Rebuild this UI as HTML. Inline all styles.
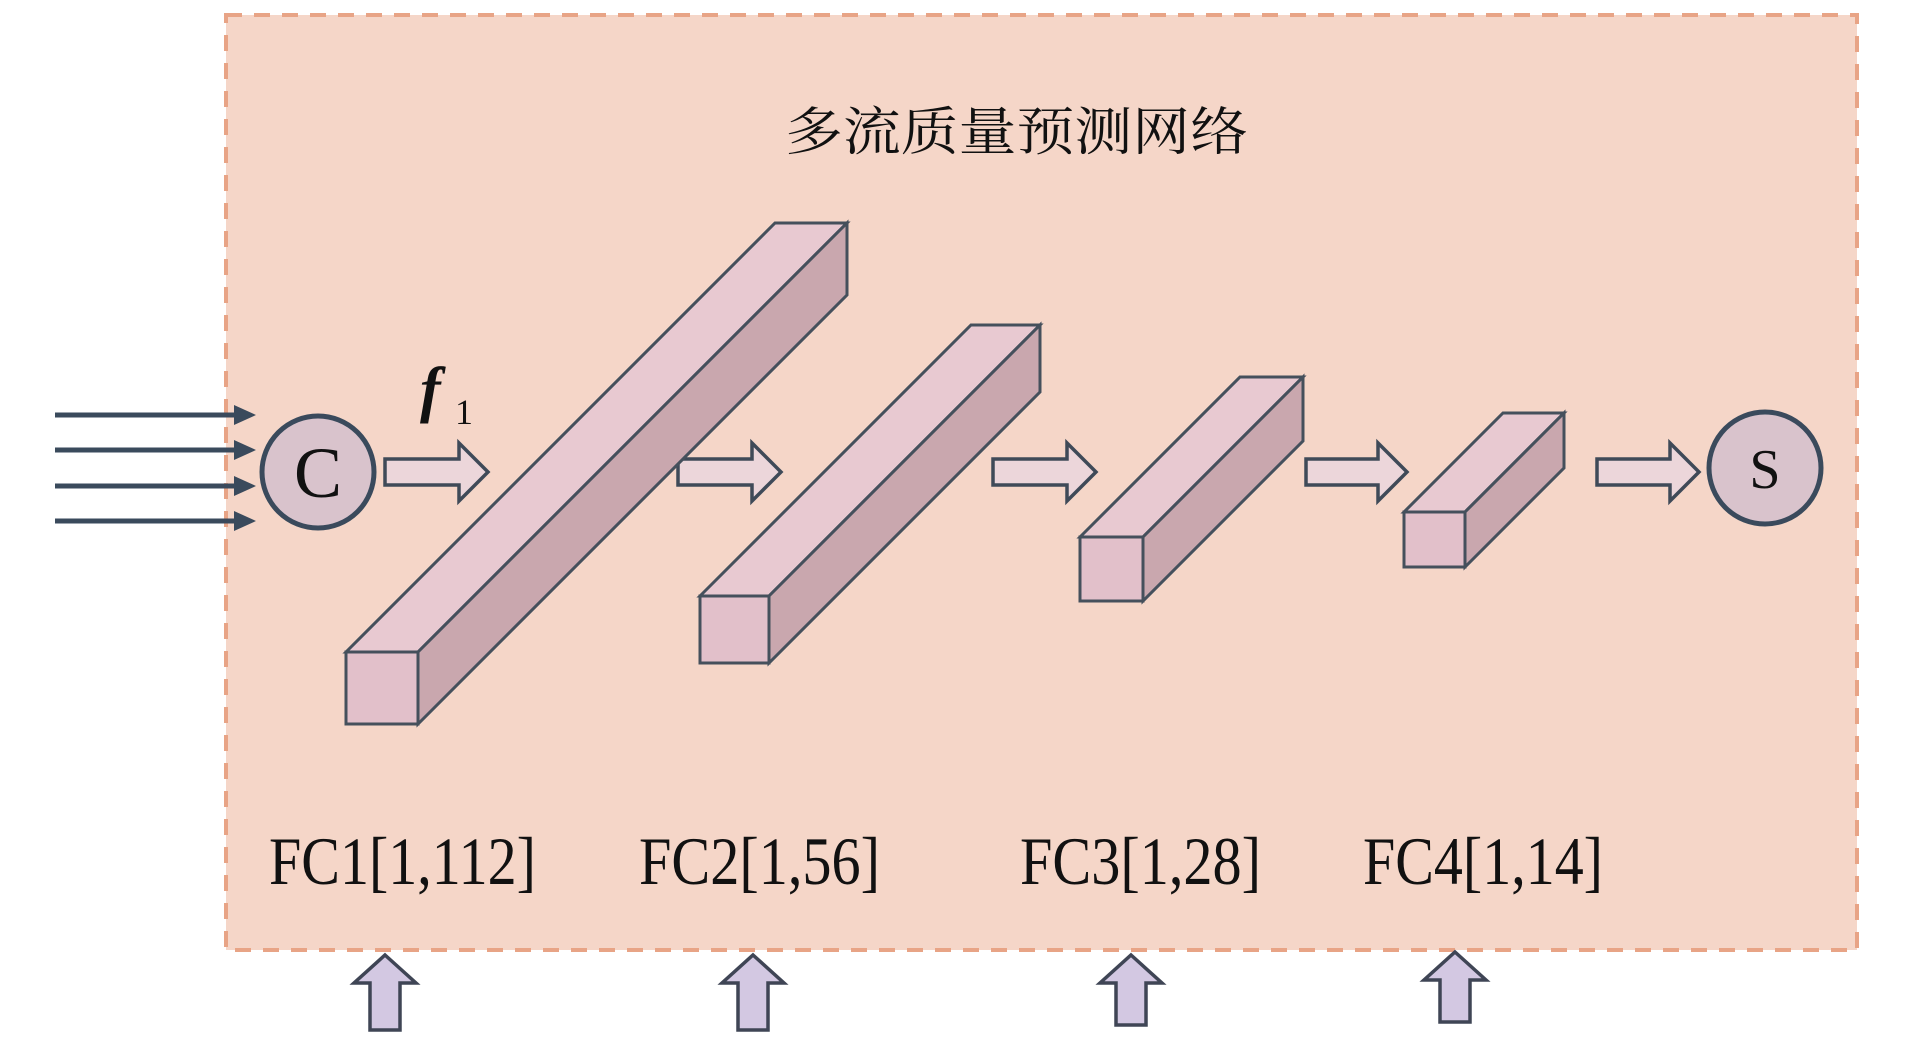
<!DOCTYPE html>
<html><head><meta charset="utf-8"><style>html,body{margin:0;padding:0;background:#fff;}svg{display:block;}</style></head>
<body>
<svg width="1913" height="1039" viewBox="0 0 1913 1039" xmlns="http://www.w3.org/2000/svg">
<rect x="226" y="15" width="1631" height="935" fill="#f5d6c8" stroke="#e8a486" stroke-width="4" stroke-dasharray="16 12"/>
<text x="785" y="150" font-family="'Noto Serif CJK SC','Noto Sans CJK SC',serif" font-size="52" fill="#111" textLength="463" lengthAdjust="spacingAndGlyphs">多流质量预测网络</text>

<g stroke="#3a4a5c" stroke-width="5" fill="#3a4a5c">
<line x1="55" y1="415" x2="238" y2="415"/><polygon points="234,405 256,415 234,425" stroke="none"/>
<line x1="55" y1="450" x2="238" y2="450"/><polygon points="234,440 256,450 234,460" stroke="none"/>
<line x1="55" y1="486" x2="238" y2="486"/><polygon points="234,476 256,486 234,496" stroke="none"/>
<line x1="55" y1="521" x2="238" y2="521"/><polygon points="234,511 256,521 234,531" stroke="none"/>
</g>
<circle cx="318" cy="472" r="56" fill="#d9c3cc" stroke="#3a4a5c" stroke-width="5"/>
<text x="318" y="497" text-anchor="middle" font-family="'Liberation Serif',serif" font-size="72" fill="#111">C</text>
<circle cx="1765" cy="468" r="56" fill="#d9c3cc" stroke="#3a4a5c" stroke-width="5"/>
<text x="1765" y="488" text-anchor="middle" font-family="'Liberation Serif',serif" font-size="56" fill="#111">S</text>

<text x="420" y="410" font-family="'Liberation Serif',serif" font-size="62" font-style="italic" font-weight="bold" fill="#111">f</text>
<text x="455" y="424" font-family="'Liberation Serif',serif" font-size="36" fill="#111">1</text>

<g fill="#ecd6da" stroke="#3f4a58" stroke-width="3.5" stroke-linejoin="miter">
<polygon points="385,459 459,459 459,443 488,472 459,501 459,485 385,485"/>
<polygon points="678,459 752,459 752,443 781,472 752,501 752,485 678,485"/>
<polygon points="993,459 1067,459 1067,443 1096,472 1067,501 1067,485 993,485"/>
<polygon points="1306,459 1378,459 1378,443 1407,472 1378,501 1378,485 1306,485"/>
<polygon points="1597,459 1670,459 1670,443 1699,472 1670,501 1670,485 1597,485"/>
</g>

<g stroke="#45505c" stroke-width="3" stroke-linejoin="miter">
<polygon points="346,652 775,223 847,223 418,652" fill="#e8c9d1"/>
<polygon points="418,652 847,223 847,295 418,724" fill="#c9a7ae"/>
<rect x="346" y="652" width="72" height="72" fill="#e2c0ca"/>
<polygon points="700,596 971,325 1040,325 769,596" fill="#e8c9d1"/>
<polygon points="769,596 1040,325 1040,392 769,663" fill="#c9a7ae"/>
<rect x="700" y="596" width="69" height="67" fill="#e2c0ca"/>
<polygon points="1080,537 1240,377 1303,377 1143,537" fill="#e8c9d1"/>
<polygon points="1143,537 1303,377 1303,441 1143,601" fill="#c9a7ae"/>
<rect x="1080" y="537" width="63" height="64" fill="#e2c0ca"/>
<polygon points="1404,512 1503,413 1564,413 1465,512" fill="#e8c9d1"/>
<polygon points="1465,512 1564,413 1564,468 1465,567" fill="#c9a7ae"/>
<rect x="1404" y="512" width="61" height="55" fill="#e2c0ca"/>
</g>

<g font-family="'Liberation Serif',serif" font-size="68" fill="#111">
<text x="269" y="884" textLength="267" lengthAdjust="spacingAndGlyphs">FC1[1,112]</text>
<text x="639" y="884" textLength="241" lengthAdjust="spacingAndGlyphs">FC2[1,56]</text>
<text x="1020" y="884" textLength="241" lengthAdjust="spacingAndGlyphs">FC3[1,28]</text>
<text x="1363" y="884" textLength="240" lengthAdjust="spacingAndGlyphs">FC4[1,14]</text>
</g>

<g fill="#d3c8e2" stroke="#3f4555" stroke-width="3.5">
<polygon points="385,955 416,983 400,983 400,1030 370,1030 370,983 354,983"/>
<polygon points="753,955 784,983 768,983 768,1030 738,1030 738,983 722,983"/>
<polygon points="1131,955 1162,983 1146,983 1146,1025 1116,1025 1116,983 1100,983"/>
<polygon points="1455,952 1486,980 1470,980 1470,1022 1440,1022 1440,980 1424,980"/>
</g>
</svg>
</body></html>
